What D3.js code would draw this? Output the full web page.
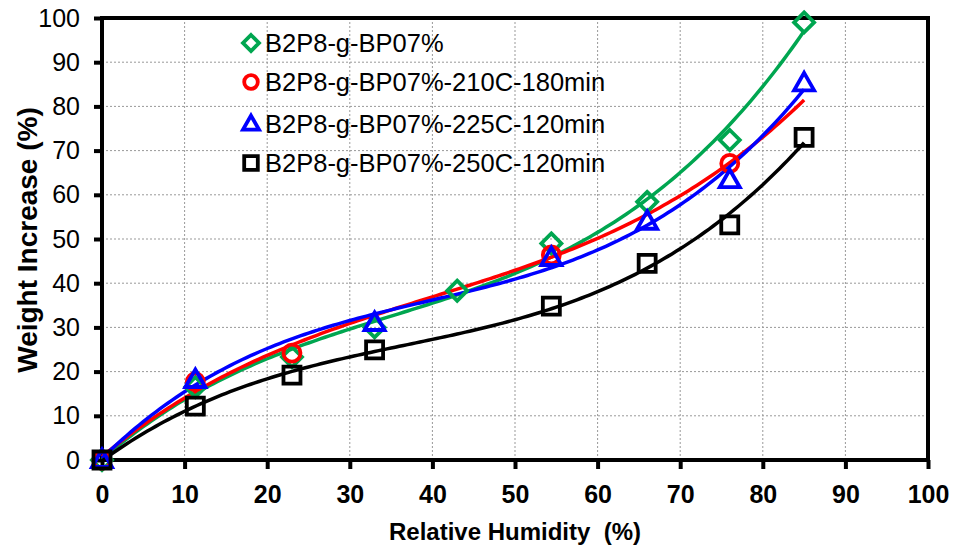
<!DOCTYPE html>
<html>
<head>
<meta charset="utf-8">
<style>
  body { margin: 0; background: #fff; font-family: 'Liberation Sans', Arial, sans-serif; }
  .grid line { stroke: #999; stroke-dasharray: 2,2; stroke-width: 1; }
  .axis .domain { display: none; }
  .axis line { stroke: #000; stroke-width: 4; }
  .pre { white-space: pre; }
</style>
</head>
<body>
<svg width="963" height="550"></svg>
<script src="https://d3js.org/d3.v7.min.js"></script>
<script>
// tick values
var xTicks = [0, 10, 20, 30, 40, 50, 60, 70, 80, 90, 100];
var yTicks = [0, 10, 20, 30, 40, 50, 60, 70, 80, 90, 100];

// series (RH %, weight increase %)
var names = ["B2P8-g-BP07%", "B2P8-g-BP07%-210C-180min", "B2P8-g-BP07%-225C-120min", "B2P8-g-BP07%-250C-120min"];
var colors = ["#00A650", "#FF0000", "#0000FF", "#000000"];
var shapes = ["diamond", "circle", "triangle", "square"];

var greenX = [0, 11.3, 23, 33, 43, 54.4, 66, 76, 85];
var greenY = [0, 16.5, 23.3, 30, 38.3, 49, 58.4, 72.4, 99];
var redX = [0, 11.3, 23, 54.4, 76];
var redY = [0, 17.7, 24.2, 46.4, 67.1];
var blueX = [0, 11.3, 33, 54.4, 66, 76, 85];
var blueY = [0, 18.1, 31, 45.7, 53.9, 63.3, 85.2];
var blackX = [0, 11.3, 23, 33, 54.4, 66, 76, 85];
var blackY = [0, 12.2, 19.2, 24.9, 34.8, 44.5, 53.2, 73];

var seriesX = [greenX, redX, blueX, blackX];
var seriesY = [greenY, redY, blueY, blackY];
var trendEnd = [85, 85, 85, 85];

var svg = d3.select("svg"),
    margin = {top: 18, right: 35, bottom: 90, left: 102},
    width = 928 - margin.left,
    height = 460 - margin.top,
    g = svg.append("g").attr("transform", "translate(" + margin.left + "," + margin.top + ")");

var x = d3.scaleLinear().domain([0, 100]).range([0, width]);
var y = d3.scaleLinear().domain([0, 100]).range([height, 0]);

// grid
g.append("g").attr("class", "grid")
  .selectAll("line").data(xTicks.slice(1, -1)).enter().append("line")
  .attr("x1", function(d) { return x(d); }).attr("x2", function(d) { return x(d); })
  .attr("y1", 0).attr("y2", height);
g.append("g").attr("class", "grid")
  .selectAll("line").data(yTicks.slice(1, -1)).enter().append("line")
  .attr("y1", function(d) { return y(d); }).attr("y2", function(d) { return y(d); })
  .attr("x1", 0).attr("x2", width);

// axes
g.append("g").attr("class", "axis")
  .attr("transform", "translate(0," + height + ")")
  .call(d3.axisBottom(x).tickValues(xTicks).tickSize(9).tickPadding(16))
  .selectAll("text")
  .attr("font-family", "'Liberation Sans', Arial, sans-serif")
  .attr("font-size", 25).attr("font-weight", "bold").attr("fill", "#000");

g.append("g").attr("class", "axis")
  .call(d3.axisLeft(y).tickValues(yTicks).tickSize(8).tickPadding(14))
  .selectAll("text")
  .attr("font-family", "'Liberation Sans', Arial, sans-serif")
  .attr("font-size", 25).attr("fill", "#000");

// frame
g.append("rect")
  .attr("width", width).attr("height", height)
  .attr("fill", "none").attr("stroke", "#000").attr("stroke-width", 4);

// cubic least-squares trendline, like the spreadsheet trendline
function polyfit(xs, ys, deg) {
  var n = deg + 1, A = [], b = [];
  for (var i = 0; i < n; i++) {
    A.push(new Array(n).fill(0)); b.push(0);
  }
  xs.forEach(function(xv, k) {
    for (var i = 0; i < n; i++) {
      b[i] += ys[k] * Math.pow(xv, i);
      for (var j = 0; j < n; j++) A[i][j] += Math.pow(xv, i + j);
    }
  });
  for (var c = 0; c < n; c++) {
    var p = c;
    for (var r = c + 1; r < n; r++) if (Math.abs(A[r][c]) > Math.abs(A[p][c])) p = r;
    var t = A[c]; A[c] = A[p]; A[p] = t;
    t = b[c]; b[c] = b[p]; b[p] = t;
    for (var r2 = c + 1; r2 < n; r2++) {
      var f = A[r2][c] / A[c][c];
      for (var j2 = c; j2 < n; j2++) A[r2][j2] -= f * A[c][j2];
      b[r2] -= f * b[c];
    }
  }
  var coef = new Array(n).fill(0);
  for (var i2 = n - 1; i2 >= 0; i2--) {
    var s = b[i2];
    for (var j3 = i2 + 1; j3 < n; j3++) s -= A[i2][j3] * coef[j3];
    coef[i2] = s / A[i2][i2];
  }
  return function(xv) {
    return coef.reduce(function(acc, cf, i) { return acc + cf * Math.pow(xv, i); }, 0);
  };
}

var line = d3.line()
  .x(function(d) { return x(d[0]); })
  .y(function(d) { return y(d[1]); });

seriesX.forEach(function(xs, si) {
  var fn = polyfit(xs, seriesY[si], 3);
  var pts = d3.range(0, trendEnd[si] + 0.01, 0.5).map(function(v) { return [v, fn(v)]; });
  g.append("path")
    .datum(pts)
    .attr("d", line)
    .attr("fill", "none")
    .attr("stroke", colors[si])
    .attr("stroke-width", 3.5);
});

function markerPath(shape, s) {
  if (shape === "diamond") return "M0," + (-s) + "L" + s + ",0L0," + s + "L" + (-s) + ",0Z";
  if (shape === "triangle") return "M0," + (-s * 1.05) + "L" + (s * 1.0) + "," + (s * 0.7) + "L" + (-s * 1.0) + "," + (s * 0.7) + "Z";
  if (shape === "square") return "M" + (-s * 0.85) + "," + (-s * 0.85) + "H" + (s * 0.85) + "V" + (s * 0.85) + "H" + (-s * 0.85) + "Z";
  return null;
}

function drawMarker(sel, shape, color, s) {
  if (shape === "circle") {
    sel.append("circle").attr("r", s * 0.85)
      .attr("fill", "none").attr("stroke", color).attr("stroke-width", 3.8);
  } else {
    sel.append("path").attr("d", markerPath(shape, s))
      .attr("fill", "none").attr("stroke", color).attr("stroke-width", 3.8)
      .attr("stroke-linejoin", "miter");
  }
}

seriesX.forEach(function(xs, si) {
  xs.forEach(function(xv, k) {
    var m = g.append("g").attr("transform", "translate(" + x(xv) + "," + y(seriesY[si][k]) + ")");
    drawMarker(m, shapes[si], colors[si], 10);
  });
});

// legend
var legendY = [43, 82, 124, 163];
names.forEach(function(nm, i) {
  var lg = svg.append("g").attr("transform", "translate(251," + legendY[i] + ")");
  drawMarker(lg, shapes[i], colors[i], 8);
  lg.append("text")
    .attr("x", 14).attr("dy", "0.35em")
    .attr("font-size", 25.5).attr("fill", "#000")
    .text(nm);
});

// axis titles
svg.append("text")
  .attr("class", "pre")
  .attr("x", 515).attr("y", 540)
  .attr("text-anchor", "middle")
  .attr("font-size", 24).attr("font-weight", "bold")
  .text("Relative Humidity  (%)");

svg.append("text")
  .attr("transform", "translate(37,240) rotate(-90)")
  .attr("text-anchor", "middle")
  .attr("font-size", 28).attr("font-weight", "bold")
  .text("Weight Increase (%)");
</script>
</body>
</html>
